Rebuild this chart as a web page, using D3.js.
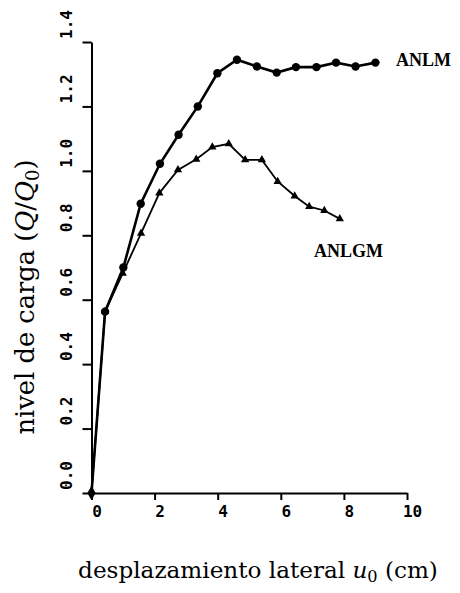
<!DOCTYPE html>
<html>
<head>
<meta charset="utf-8">
<script src="https://cdn.jsdelivr.net/npm/d3@7"></script>
<style>
  body { margin: 0; background: #fff; }
  .tick text { font-family: "DejaVu Sans Mono", monospace; font-weight: bold; font-size: 16px; }
  .lbl { font-family: "DejaVu Serif", "Liberation Serif", serif; fill: #000; }
  .ser { font-family: "Liberation Serif", serif; font-weight: bold; fill: #000; }
</style>
</head>
<body>
<div id="chart"></div>
<script>
// data
var anlmX = [0, 0.43, 1.01, 1.56, 2.17, 2.76, 3.37, 3.99, 4.61, 5.24, 5.87, 6.48, 7.13, 7.75, 8.37, 9.0];
var anlmY = [0, 0.563, 0.70, 0.898, 1.022, 1.112, 1.20, 1.303, 1.345, 1.324, 1.305, 1.322, 1.322, 1.336, 1.324, 1.336];
var anlgmX = [0, 0.43, 0.99, 1.57, 2.15, 2.74, 3.32, 3.83, 4.35, 4.87, 5.40, 5.90, 6.44, 6.90, 7.38, 7.87];
var anlgmY = [0, 0.563, 0.682, 0.806, 0.931, 1.003, 1.036, 1.074, 1.084, 1.034, 1.034, 0.967, 0.922, 0.889, 0.877, 0.851];
var xTicks = [0, 2, 4, 6, 8, 10];
var yTicks = [0, 0.2, 0.4, 0.6, 0.8, 1.0, 1.2, 1.4];

var W = 460, H = 593;
var svg = d3.select('#chart').append('svg').attr('width', W).attr('height', H);

var x = d3.scaleLinear().domain([0, 10]).range([91.5, 407]);
var y = d3.scaleLinear().domain([0, 1.4]).range([493, 42]);

// y axis
var gy = svg.append('g').attr('transform', 'translate(' + x(0) + ',0)')
  .call(d3.axisLeft(y).tickValues(yTicks).tickSize(9).tickSizeOuter(0).tickFormat(d3.format('.1f')));
gy.selectAll('.tick text')
  .attr('x', null).attr('dy', null)
  .attr('text-anchor', 'middle')
  .attr('transform', 'translate(-20,-18) rotate(-90)');

// x axis
var gx = svg.append('g').attr('transform', 'translate(0,' + y(0) + ')')
  .call(d3.axisBottom(x).tickValues(xTicks).tickSize(7).tickSizeOuter(0));
gx.selectAll('.tick text').attr('x', 5).attr('y', 13);

svg.selectAll('.domain, .tick line').attr('stroke', '#000').attr('stroke-width', 2);

var line = d3.line().x(d => x(d[0])).y(d => y(d[1]));
var anlm = anlmX.map((v, i) => [v, anlmY[i]]);
var anlgm = anlgmX.map((v, i) => [v, anlgmY[i]]);

svg.append('path').datum(anlgm).attr('d', line)
  .attr('fill', 'none').attr('stroke', '#000').attr('stroke-width', 1.8);
svg.append('path').datum(anlm).attr('d', line)
  .attr('fill', 'none').attr('stroke', '#000').attr('stroke-width', 2.6);

svg.selectAll('.tri').data(anlgm.slice(1)).join('path').attr('class', 'tri')
  .attr('transform', d => 'translate(' + x(d[0]) + ',' + y(d[1]) + ')')
  .attr('d', d3.symbol().type(d3.symbolTriangle).size(30)());
svg.selectAll('.dot').data(anlm.slice(1)).join('circle').attr('class', 'dot')
  .attr('cx', d => x(d[0])).attr('cy', d => y(d[1])).attr('r', 4.2);
svg.append('path').datum(anlm[0])
  .attr('transform', d => 'translate(' + x(d[0]) + ',' + y(d[1]) + ')')
  .attr('d', d3.symbol().type(d3.symbolDiamond).size(60)());

// series labels
svg.append('text').attr('class', 'ser').attr('x', 396).attr('y', 66)
  .attr('font-size', 18).text('ANLM');
svg.append('text').attr('class', 'ser').attr('x', 314).attr('y', 257)
  .attr('font-size', 18).text('ANLGM');

// axis titles, fitted to the widths seen in the scan
function fit(t, target) {
  var fs = 22;
  t.attr('font-size', fs);
  var len = t.node().getComputedTextLength();
  t.attr('font-size', fs * target / len);
}

var yl = svg.append('text').attr('class', 'lbl').attr('text-anchor', 'middle')
  .attr('transform', 'translate(34,297) rotate(-90)');
yl.append('tspan').text('nivel de carga (');
yl.append('tspan').attr('font-style', 'italic').text('Q');
yl.append('tspan').text('/');
yl.append('tspan').attr('font-style', 'italic').text('Q');
yl.append('tspan').attr('font-size', '0.7em').attr('dy', '0.25em').text('0');
yl.append('tspan').attr('dy', '-0.175em').text(')');
fit(yl, 275);

var xl = svg.append('text').attr('class', 'lbl').attr('text-anchor', 'middle')
  .attr('x', 258).attr('y', 578);
xl.append('tspan').text('desplazamiento lateral ');
xl.append('tspan').attr('font-style', 'italic').text('u');
xl.append('tspan').attr('font-size', '0.7em').attr('dy', '0.25em').text('0');
xl.append('tspan').attr('dy', '-0.175em').text(' (cm)');
fit(xl, 360);
</script>
</body>
</html>
